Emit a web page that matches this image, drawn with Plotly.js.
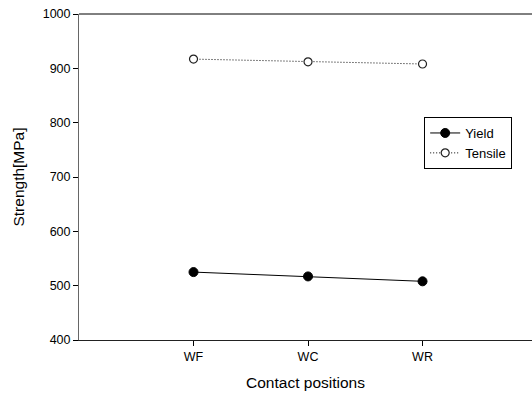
<!DOCTYPE html>
<html><head><meta charset="utf-8">
<script src="https://cdn.plot.ly/plotly-3.0.1.min.js"></script>
<style>html,body{margin:0;padding:0;overflow:hidden;background:#fff}</style>
</head><body><div id="chart" style="width:532px;height:394px"></div>
<script>
const positions = ['WF', 'WC', 'WR'];
const yieldStrength = [525, 517, 508];
const tensileStrength = [917, 912, 908];
const xIndex = [1, 2, 3];

const traces = [
  {x: xIndex, y: yieldStrength, name: 'Yield', mode: 'lines+markers', type: 'scatter',
   line: {color: '#000', width: 1, dash: 'solid'},
   marker: {symbol: 'circle', size: 9, color: '#000', line: {color: '#000', width: 1}}},
  {x: xIndex, y: tensileStrength, name: 'Tensile', mode: 'lines+markers', type: 'scatter',
   line: {color: '#000', width: 1, dash: '1px,2px'},
   marker: {symbol: 'circle', size: 8, color: '#fff', line: {color: '#222', width: 1.2}}}
];

const layout = {
  width: 532, height: 394,
  margin: {l: 79, r: 0, t: 14, b: 54},
  paper_bgcolor: '#fff', plot_bgcolor: '#fff',
  font: {family: 'Liberation Sans, Arial, sans-serif', size: 12.5, color: '#000'},
  showlegend: true,
  legend: {x: 0.762, y: 0.684, xanchor: 'left', yanchor: 'top', bordercolor: '#000', borderwidth: 1,
           bgcolor: '#fff', font: {size: 13}, tracegroupgap: 0, itemwidth: 30},
  xaxis: {range: [0, 3.956], tickvals: xIndex, ticktext: positions, showgrid: false, zeroline: false,
          ticks: 'outside', ticklen: 5, tickcolor: '#000', showline: true, linecolor: '#222', linewidth: 1,
          mirror: false, title: {text: 'Contact positions', font: {size: 15.5}, standoff: 14}},
  yaxis: {range: [400, 1000], dtick: 100, showgrid: false, zeroline: false,
          ticks: 'outside', ticklen: 5, tickcolor: '#000', showline: true, linecolor: '#666', linewidth: 1,
          title: {text: 'Strength[MPa]', font: {size: 15.5}, standoff: 14}},
  shapes: [{type: 'line', xref: 'paper', yref: 'paper', x0: 0, x1: 1, y0: 1, y1: 1,
            line: {color: '#000', width: 1}}]
};

Plotly.newPlot('chart', traces, layout, {displayModeBar: false, staticPlot: true});
</script></body></html>
